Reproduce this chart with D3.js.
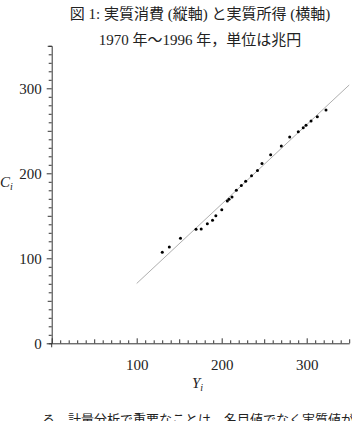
<!DOCTYPE html>
<html>
<head>
<meta charset="utf-8">
<script src="https://cdn.jsdelivr.net/npm/d3@7"></script>
<style>
  body { margin: 0; background: #fff; }
  svg { display: block; }
  text { font-family: "Liberation Serif", "Noto Sans CJK JP", serif; fill: #222; }
</style>
</head>
<body>
<script>
// real income Y_i and real consumption C_i, 1970-1996 (trillion yen)
var income = [130.1, 138.4, 151.5, 169.8, 175.9, 183.1, 189.2, 193.1, 200.1, 206.6,
              208.6, 212.1, 217.2, 223.1, 228.2, 235.1, 242.1, 247.4, 257.6, 270.1,
              280.0, 290.1, 295.9, 299.2, 305.1, 312.5, 322.7];
var consumption = [107.1, 113.3, 123.5, 134.2, 134.5, 140.6, 144.7, 150.1, 157.2, 167.4,
                   169.4, 172.1, 180.0, 185.6, 190.6, 197.2, 203.3, 211.5, 221.9, 232.1,
                   242.7, 248.9, 253.6, 256.6, 261.5, 266.6, 274.5];
// fitted line end points
var fitY = [100, 350];
var fitC = [70.4, 303.9];
var majorTicks = [0, 100, 200, 300];

var W = 352, H = 421;
var svg = d3.select("body").append("svg").attr("width", W).attr("height", H);

var x = d3.scaleLinear().domain([0, 350]).range([51.7, 349.2]);
var y = d3.scaleLinear().domain([0, 350]).range([343.3, 45.8]);

// titles
svg.append("text").attr("x", 200).attr("y", 19).attr("text-anchor", "middle")
  .style("font-size", "15px").text("図 1: 実質消費 (縦軸) と実質所得 (横軸)");
svg.append("text").attr("x", 200).attr("y", 45).attr("text-anchor", "middle")
  .style("font-size", "15px").text("1970 年〜1996 年，単位は兆円");

// y axis
var gy = svg.append("g").attr("transform", "translate(" + x(0) + ",0)")
  .call(d3.axisLeft(y).tickValues(d3.range(0, 351, 10)).tickSizeOuter(0).tickSize(3)
    .tickPadding(7)
    .tickFormat(function(d) { return majorTicks.indexOf(d) >= 0 ? d : ""; }));
gy.selectAll(".tick line").attr("x2", function(d) { return d % 100 === 0 ? -5 : d % 50 === 0 ? -4 : -3; });

// x axis, ticks pointing up
var gx = svg.append("g").attr("transform", "translate(0," + y(0) + ")")
  .call(d3.axisBottom(x).tickValues(d3.range(0, 351, 10)).tickSizeOuter(0).tickSizeInner(-3)
    .tickPadding(16)
    .tickFormat(function(d) { return majorTicks.indexOf(d) >= 0 && d > 0 ? d : ""; }));
gx.selectAll(".tick line").attr("y2", function(d) { return d % 100 === 0 ? -5 : d % 50 === 0 ? -4 : -3; });

svg.selectAll(".domain, .tick line").attr("stroke", "#333").attr("stroke-width", 1);
svg.selectAll(".tick text").style("font-size", "15px").style("font-family", "Liberation Serif").attr("fill", "#222");

// small overhang of y axis below x axis
svg.append("line").attr("x1", x(0)).attr("x2", x(0)).attr("y1", y(0)).attr("y2", y(0) + 4)
  .attr("stroke", "#333");

// axis labels
var cl = svg.append("text").attr("x", 0).attr("y", 187).style("font-size", "15px").style("font-style", "italic");
cl.append("tspan").text("C");
cl.append("tspan").attr("dy", 3).style("font-size", "10px").text("i");
var yl = svg.append("text").attr("x", 192).attr("y", 388).style("font-size", "15px").style("font-style", "italic");
yl.append("tspan").text("Y");
yl.append("tspan").attr("dy", 3).style("font-size", "10px").text("i");

// fitted line
svg.append("line")
  .attr("x1", x(fitY[0])).attr("y1", y(fitC[0]))
  .attr("x2", x(fitY[1])).attr("y2", y(fitC[1]))
  .attr("stroke", "#999").attr("stroke-width", 0.8);

// points
svg.selectAll(".pt").data(income).enter().append("circle")
  .attr("class", "pt")
  .attr("cx", function(d) { return x(d); })
  .attr("cy", function(d, i) { return y(consumption[i]); })
  .attr("r", 1.5).attr("fill", "#000");

// text continuing below the figure (cut at the page edge, as in the source)
svg.append("text").attr("x", 42).attr("y", 424).style("font-size", "13px")
  .style("font-family", "Noto Sans CJK JP")
  .text("る．計量分析で重要なことは，名目値でなく実質値が");
</script>
</body>
</html>
